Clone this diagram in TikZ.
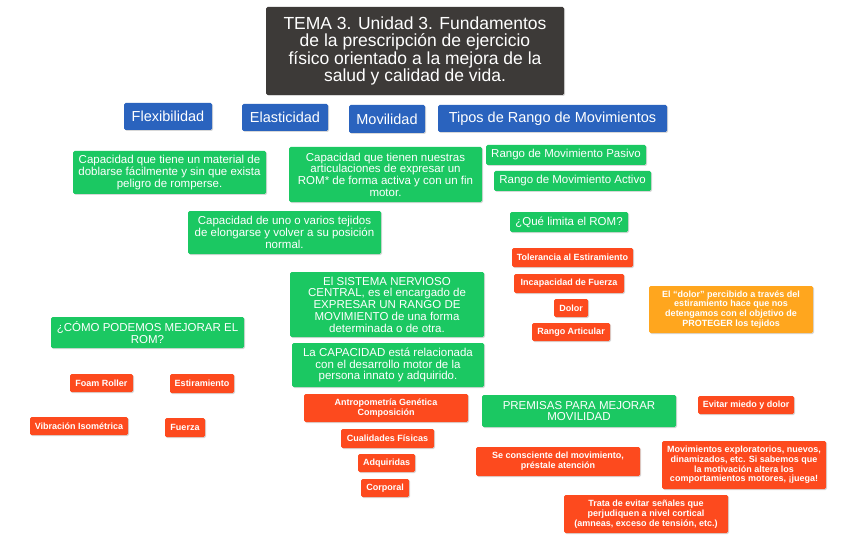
\documentclass[tikz,border=0pt]{standalone}
\usepackage{fontspec}
\setmainfont{Liberation Sans}
\usetikzlibrary{backgrounds,shadows}
\definecolor{titlec}{HTML}{3D3A38}
\definecolor{bluec}{HTML}{2A63BE}
\definecolor{greenc}{HTML}{1BC862}
\definecolor{redc}{HTML}{FD4A1E}
\definecolor{orangec}{HTML}{FFA61E}
\definecolor{linec}{HTML}{C9C9C9}
\tikzset{
 box/.style={rounded corners=1.5pt, inner sep=0pt, text=white, align=center,
   drop shadow={shadow xshift=1pt, shadow yshift=-1pt, opacity=0.3}},
 titlebox/.style={box, fill=titlec, font=\fontsize{17.5}{17.3}\selectfont},
 bluebox/.style={box, fill=bluec, font=\fontsize{14.5}{16}\selectfont},
 greenbox/.style={box, fill=greenc, font=\fontsize{11.5}{11.7}\selectfont},
 redbox/.style={box, fill=redc, font=\bfseries\fontsize{9}{9.7}\selectfont},
 orangebox/.style={box, fill=orangec, font=\bfseries\fontsize{9}{9.8}\selectfont},
 link/.style={draw=linec, line width=1pt},
 wh/.style n args={2}{minimum width=#1pt, minimum height=#2pt},
}
\begin{document}
\begin{tikzpicture}[x=1pt,y=-1pt]
\useasboundingbox[fill=white] (0,0) rectangle (848,548);

\node[titlebox, wh={298}{88}] (title) at (415,51) {TEMA 3. Unidad 3. Fundamentos\\de la prescripción de ejercicio\\físico orientado a la mejora de la\\salud y calidad de vida.};

\node[bluebox, wh={88}{27}] (flex) at (168,116.5) {Flexibilidad};
\node[bluebox, wh={86}{27}] (elast) at (285,117.5) {Elasticidad};
\node[bluebox, wh={76}{28}] (movil) at (387,119) {Movilidad};
\node[bluebox, wh={229}{27}] (tipos) at (552.5,118.5) {Tipos de Rango de Movimientos};

\node[greenbox, wh={193}{43}] (flexd) at (169.5,172.5) {Capacidad que tiene un material de\\doblarse fácilmente y sin que exista\\peligro de romperse.};
\node[greenbox, wh={193}{55}] (movd) at (385.5,174.5) {Capacidad que tienen nuestras\\articulaciones de expresar un\\ROM* de forma activa y con un fin\\motor.};
\node[greenbox, wh={193}{43}] (elastd) at (284.5,232.5) {Capacidad de uno o varios tejidos\\de elongarse y volver a su posición\\normal.};

\node[greenbox, wh={160}{20}] (pasivo) at (566,155) {Rango de Movimiento Pasivo};
\node[greenbox, wh={157}{20}] (activo) at (572.5,181) {Rango de Movimiento Activo};
\node[greenbox, wh={118}{20}] (quelim) at (569,222) {¿Qué limita el ROM?};
\node[redbox, wh={121}{19}] (toler) at (572.5,257.5) {Tolerancia al Estiramiento};
\node[redbox, wh={110}{19}] (incap) at (569,283.5) {Incapacidad de Fuerza};
\node[redbox, wh={34}{18}] (dolor) at (571,308) {Dolor};
\node[redbox, wh={78}{18}] (rangoart) at (571,332) {Rango Articular};
\node[orangebox, wh={164}{47}] (dnote) at (731,309.5) {El “dolor” percibido a través del\\estiramiento hace que nos\\detengamos con el objetivo de\\PROTEGER los tejidos};

\node[greenbox, wh={193}{31}] (como) at (147.5,332.5) {¿CÓMO PODEMOS MEJORAR EL\\ROM?};
\node[redbox, wh={63}{18}] (foam) at (101.5,383) {Foam Roller};
\node[redbox, wh={64}{19}] (estir) at (202,383.5) {Estiramiento};
\node[redbox, wh={98}{18}] (vibr) at (79,426) {Vibración Isométrica};
\node[redbox, wh={40}{19}] (fuerza) at (185,427.5) {Fuerza};

\node[greenbox, wh={194}{65}] (sist) at (387,304.5) {El SISTEMA NERVIOSO\\CENTRAL, es el encargado de\\EXPRESAR UN RANGO DE\\MOVIMIENTO de una forma\\determinada o de otra.};
\node[greenbox, wh={192}{44}] (capac) at (388,365) {La CAPACIDAD está relacionada\\con el desarrollo motor de la\\persona innato y adquirido.};
\node[redbox, wh={164}{28}] (antro) at (386,408) {Antropometría Genética\\Composición};
\node[redbox, wh={93}{19}] (cuali) at (387.5,438.5) {Cualidades Físicas};
\node[redbox, wh={57}{18}] (adqui) at (386.5,463) {Adquiridas};
\node[redbox, wh={48}{18}] (corp) at (385,488) {Corporal};

\node[greenbox, wh={194}{32}] (prem) at (579,411) {PREMISAS PARA MEJORAR\\MOVILIDAD};
\node[redbox, wh={96}{18}] (evitar) at (746,405) {Evitar miedo y dolor};
\node[redbox, wh={164}{29}] (secon) at (558,461.5) {Se consciente del movimiento,\\préstale atención};
\node[redbox, wh={164}{48}] (movex) at (744,465) {Movimientos exploratorios, nuevos,\\dinamizados, etc. Si sabemos que\\la motivación altera los\\comportamientos motores, ¡juega!};
\node[redbox, wh={164}{38}] (trata) at (646,514) {Trata de evitar señales que\\perjudiquen a nivel cortical\\(amneas, exceso de tensión, etc.)};

\begin{scope}[on background layer]
\draw[link] (title.center) -- (flex.center);
\draw[link] (title.center) -- (elast.center);
\draw[link] (title.center) -- (movil.center);
\draw[link] (title.center) -- (tipos.center);
\draw[link] (flex.center) -- (flexd.center);
\draw[link] (elast.center) -- (elastd.center);
\draw[link] (movil.center) -- (movd.center);
\draw[link] (movil.center) -- (como.center);
\draw[link] (movil.center) -- (sist.center);
\draw[link] (sist.center) -- (capac.center);
\draw[link] (capac.center) -- (antro.center);
\draw[link] (antro.center) -- (cuali.center);
\draw[link] (cuali.center) -- (adqui.center);
\draw[link] (adqui.center) -- (corp.center);
\draw[link] (movil.center) -- (prem.center);
\draw[link] (tipos.center) -- (pasivo.center);
\draw[link] (tipos.center) -- (activo.center);
\draw[link] (tipos.center) -- (quelim.center);
\draw[link] (quelim.center) -- (toler.center);
\draw[link] (quelim.center) -- (incap.center);
\draw[link] (quelim.center) -- (dolor.center);
\draw[link] (quelim.center) -- (rangoart.center);
\draw[link] (dolor.center) -- (dnote.center);
\draw[link] (como.center) -- (foam.center);
\draw[link] (como.center) -- (estir.center);
\draw[link] (como.center) -- (vibr.center);
\draw[link] (como.center) -- (fuerza.center);
\draw[link] (prem.center) -- (evitar.center);
\draw[link] (prem.center) -- (secon.center);
\draw[link] (prem.center) -- (movex.center);
\draw[link] (prem.center) -- (trata.center);
\end{scope}
\end{tikzpicture}
\end{document}
